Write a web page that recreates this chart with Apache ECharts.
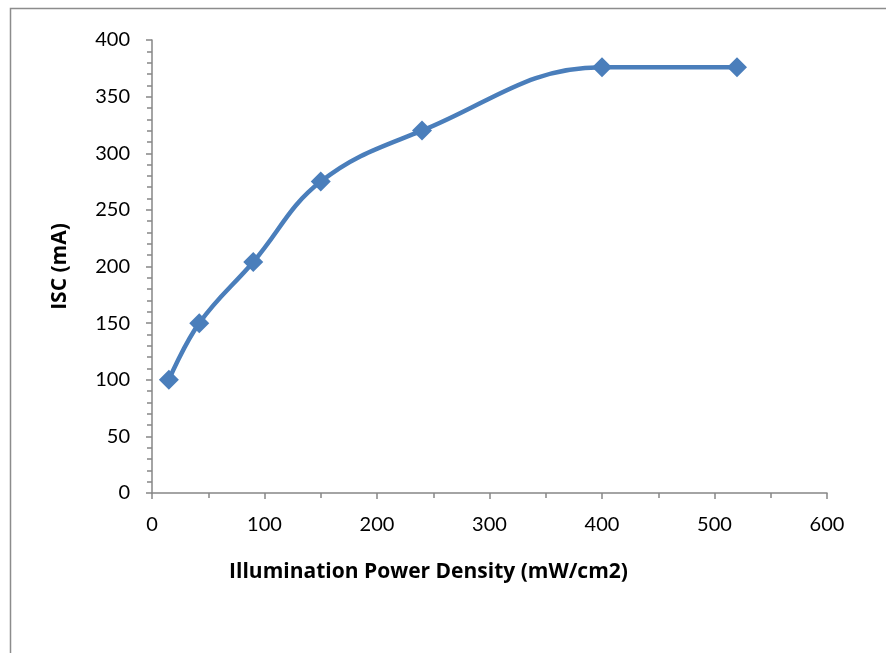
<!DOCTYPE html>
<html>
<head>
<meta charset="utf-8">
<script src="https://cdn.jsdelivr.net/npm/echarts@6/dist/echarts.min.js"></script>
<style>html,body{margin:0;padding:0;background:#fff;}#c{width:886px;height:653px;}</style>
</head>
<body>
<div id="c"></div>
<script>
var powerDensity = [15, 42, 90, 150, 240, 400, 520];
var iscValues = [100, 150, 204, 275, 320, 376, 376];
var xTitle = 'Illumination Power Density (mW/cm2)';
var yTitle = 'ISC (mA)';

var chart = echarts.init(document.getElementById('c'));
var pts = powerDensity.map(function (x, i) { return [x, iscValues[i]]; });
var axisColor = '#868686';
var font = 'Lato, "Open Sans", sans-serif';
var titleFont = '"Open Sans", Lato, sans-serif';
chart.setOption({
  animation: false,
  backgroundColor: '#fff',
  graphic: [{
    type: 'rect', silent: true,
    shape: { x: 10.5, y: 8.5, width: 1000, height: 1000 },
    style: { fill: 'none', stroke: '#8c8c8c', lineWidth: 1.5 }
  }],
  grid: { left: 152, top: 40, right: 59, bottom: 160, containLabel: false },
  xAxis: {
    type: 'value', min: 0, max: 600, interval: 100,
    name: xTitle, nameLocation: 'middle', nameGap: 69,
    nameTextStyle: { fontFamily: titleFont, fontWeight: 'bold', fontSize: 21, color: '#000', padding: [0, 122, 0, 0] },
    axisLine: { show: true, lineStyle: { color: axisColor, width: 1.5 } },
    axisTick: { show: true, length: 6, lineStyle: { color: axisColor, width: 1.5 } },
    minorTick: { show: true, splitNumber: 2, length: 5, lineStyle: { color: axisColor, width: 1.5 } },
    splitLine: { show: false },
    axisLabel: { fontFamily: font, fontSize: 20, color: '#000', margin: 22 }
  },
  yAxis: {
    type: 'value', min: 0, max: 400, interval: 50,
    name: yTitle, nameLocation: 'middle', nameGap: 81, nameRotate: 90,
    nameTextStyle: { fontFamily: titleFont, fontWeight: 'bold', fontSize: 21, color: '#000' },
    axisLine: { show: true, lineStyle: { color: axisColor, width: 1.5 } },
    axisTick: { show: true, length: 6, lineStyle: { color: axisColor, width: 1.5 } },
    minorTick: { show: true, splitNumber: 5, length: 5, lineStyle: { color: axisColor, width: 1.5 } },
    splitLine: { show: false },
    axisLabel: { fontFamily: font, fontSize: 20, color: '#000', margin: 22 }
  },
  series: [{
    type: 'line', data: pts, smooth: 0.4,
    symbol: 'diamond', symbolSize: 20,
    lineStyle: { color: '#4a7ebb', width: 4.5 },
    itemStyle: { color: '#4a7ebb' }
  }]
});
</script>
</body>
</html>
